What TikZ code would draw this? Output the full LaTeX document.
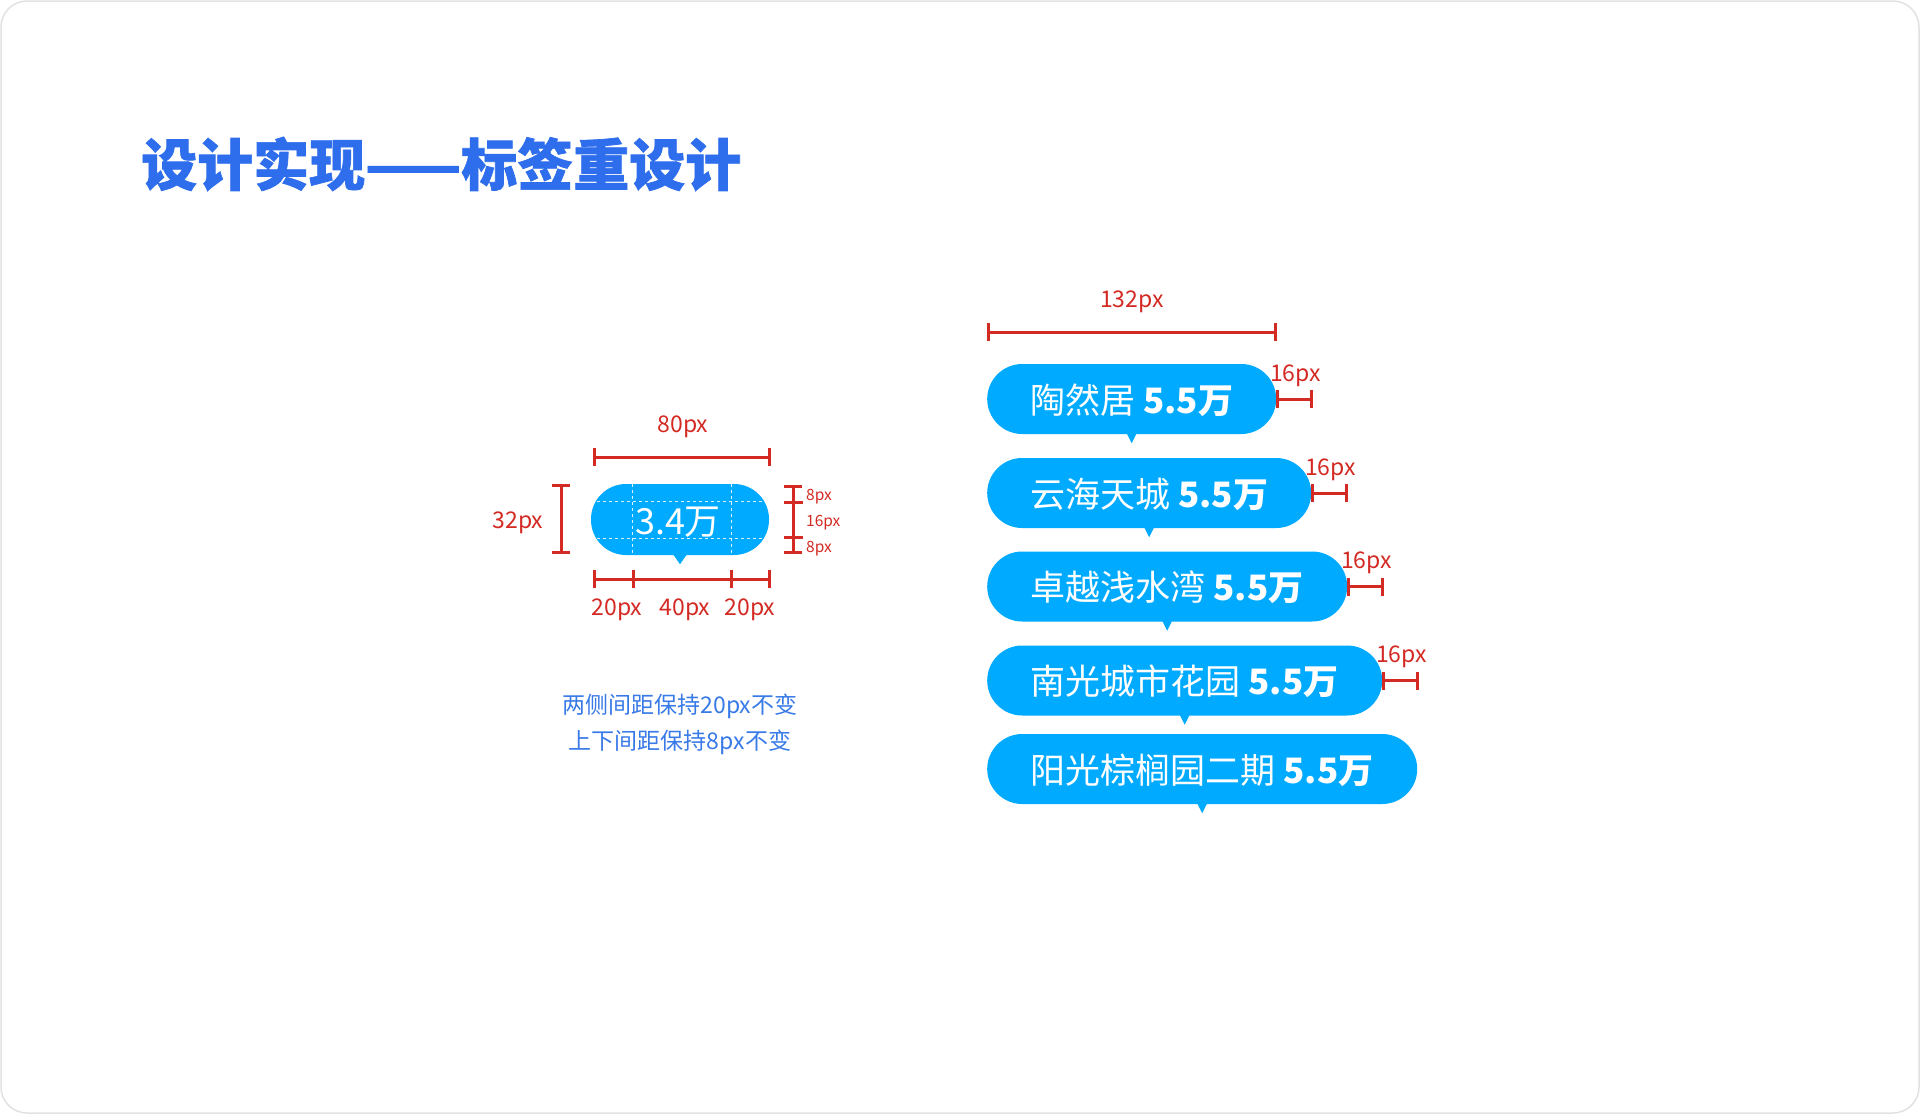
\documentclass[tikz,border=0pt]{standalone}
\usepackage{fontspec}
\usetikzlibrary{arrows.meta,calc}
\newfontfamily\cjk{Noto Sans CJK SC}
\newfontfamily\titlefont[FakeBold=1.2]{Noto Sans CJK SC}
\definecolor{pillblue}{RGB}{0,170,255}
\definecolor{dimred}{RGB}{212,42,36}
\definecolor{titleblue}{RGB}{46,110,236}
\definecolor{capblue}{RGB}{56,122,232}
\definecolor{framegrey}{RGB}{226,226,226}
\begin{document}
\begin{tikzpicture}[x=1pt,y=-1pt,
  pill/.style={fill=pillblue, rounded corners=35, inner sep=0, minimum height=70,
    text height=34, text depth=5.5,
    text=white, font=\cjk\fontsize{35}{35}\selectfont},
  tip/.style={fill=pillblue},
  guide/.style={draw=white, line width=1.1, dash pattern=on 3pt off 3pt, opacity=0.85},
  dimh/.style={draw=dimred, line width=3, {Bar[width=18]}-{Bar[width=18]}},
  tick/.style={draw=dimred, line width=3},
  dimlabel/.style={text=dimred, inner sep=0, yshift=-2.5pt, font=\cjk\fontsize{23}{23}\selectfont},
  smalllabel/.style={text=dimred, inner sep=0, anchor=west, yshift=-1.5pt, font=\cjk\fontsize{15.5}{15.5}\selectfont},
  caption/.style={text=capblue, align=center, font=\cjk\fontsize{23}{36}\selectfont},
]
\useasboundingbox (0,0) rectangle (1920,1114);
\fill[white] (0,0) rectangle (1920,1114);
\draw[framegrey, line width=1.5, rounded corners=26] (1,1) rectangle (1919,1113);

% title
\node[anchor=west, inner sep=0, text=titleblue, font=\titlefont\bfseries\fontsize{56}{56}\selectfont] (title) at (141,164) {设计实现——标签重设计};

% ---------- left spec pill ----------
\node[pill, minimum width=178, minimum height=71] (lp) at (680,519.5) {};
\fill[tip] ($(lp.south)+(-7,-1)$) -- ($(lp.south)+(7,-1)$) -- ($(lp.south)+(0,9)$) -- cycle;
\begin{scope}
  \clip[rounded corners=35.5] (lp.south west) rectangle (lp.north east);
  \draw[guide] ($(lp.north west)+(42,0)$) -- ($(lp.south west)+(42,0)$);
  \draw[guide] ($(lp.north east)+(-38,0)$) -- ($(lp.south east)+(-38,0)$);
  \draw[guide] ($(lp.north west)+(0,18)$) -- ($(lp.north east)+(0,18)$);
  \draw[guide] ($(lp.south west)+(0,-17)$) -- ($(lp.south east)+(0,-17)$);
\end{scope}
\node[text=white, inner sep=0, yshift=-2pt, font=\cjk\fontsize{36}{36}\selectfont] (lptext) at (678,520) {3.4万};

% 80px
\coordinate (a80) at (593,457);
\coordinate (b80) at (771,457);
\draw[dimh] (a80) -- (b80);
\node[dimlabel] (l80) at (683,424) {80px};
% 32px
\coordinate (a32) at (561,484);
\coordinate (b32) at (561,554);
\draw[dimh] (a32) -- (b32);
\node[dimlabel] (l32) at (518,520) {32px};
% 8/16/8
\coordinate (r1) at (793,485);
\coordinate (r2) at (793,502);
\coordinate (r3) at (793,537);
\coordinate (r4) at (793,554);
\draw[dimh] (r1) -- (r4);
\draw[tick] ($(r2)+(-9.5,0)$) -- ($(r2)+(9.5,0)$);
\draw[tick] ($(r3)+(-9.5,0)$) -- ($(r3)+(9.5,0)$);
\node[smalllabel] (s1) at (806,495) {8px};
\node[smalllabel] (s2) at (806,521) {16px};
\node[smalllabel] (s3) at (806,547) {8px};
% 20/40/20
\coordinate (q1) at (593,579);
\coordinate (q2) at (633,579);
\coordinate (q3) at (731,579);
\coordinate (q4) at (771,579);
\draw[dimh] (q1) -- (q4);
\draw[tick] ($(q2)+(0,-9)$) -- ($(q2)+(0,9)$);
\draw[tick] ($(q3)+(0,-9)$) -- ($(q3)+(0,9)$);
\node[dimlabel] (t1) at (617,607) {20px};
\node[dimlabel] (t2) at (685,607) {40px};
\node[dimlabel] (t3) at (750,607) {20px};

\node[caption] (cap) at (680,724.5) {两侧间距保持20px不变\\上下间距保持8px不变};

% ---------- right pills ----------
\node[pill, anchor=west, minimum width=289] (p1) at (987,399) {陶然居 {\bfseries 5.5万}};
\node[pill, anchor=west, minimum width=324] (p2) at (987,493) {云海天城 {\bfseries 5.5万}};
\node[pill, anchor=west, minimum width=360] (p3) at (987,586.5) {卓越浅水湾 {\bfseries 5.5万}};
\node[pill, anchor=west, minimum width=395] (p4) at (987,680.5) {南光城市花园 {\bfseries 5.5万}};
\node[pill, anchor=west, minimum width=430] (p5) at (987,769) {阳光棕榈园二期 {\bfseries 5.5万}};
\foreach \p in {p1,p2,p3,p4,p5}{
  \fill[tip] ($(\p.south)+(-5,-1)$) -- ($(\p.south)+(5,-1)$) -- ($(\p.south)+(0,9)$) -- cycle;
}
% 132px
\coordinate (a132) at (987,332);
\coordinate (b132) at (1277,332);
\draw[dimh] (a132) -- (b132);
\node[dimlabel] (l132) at (1132,299) {132px};
% 16px side dims
\foreach \p in {p1,p2,p3,p4}{
  \coordinate (\p e) at (\p.east);
  \coordinate (\p f) at ($(\p.east)+(37,0)$);
  \draw[dimh] (\p e) -- (\p f);
  \node[dimlabel] at ($(\p.north east)+(19,9)$) {16px};
}
\end{tikzpicture}
\end{document}
